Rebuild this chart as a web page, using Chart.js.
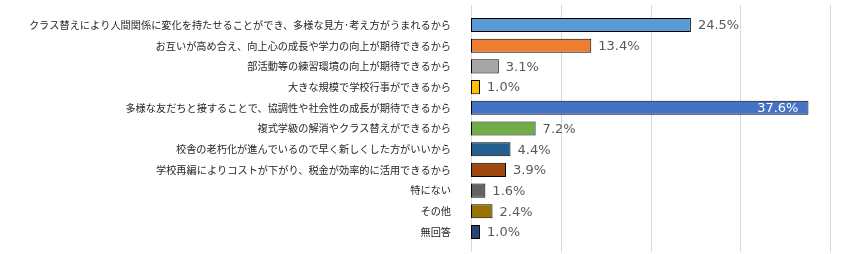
<!DOCTYPE html>
<html lang="ja">
<head>
  <meta charset="UTF-8">
  <title>学校再編の良い点</title>
  <style>
    body { margin: 0; background: #fff; }
    .wrap { width: 842px; height: 254px; position: relative; }
  </style>
  <script src="https://cdn.jsdelivr.net/npm/chart.js"></script>
</head>
<body>
  <div class="wrap"><canvas id="reasonChart"></canvas></div>

  <script>
    const categories = [
      'クラス替えにより人間関係に変化を持たせることができ、多様な見方･考え方がうまれるから',
      'お互いが高め合え、向上心の成長や学力の向上が期待できるから',
      '部活動等の練習環境の向上が期待できるから',
      '大きな規模で学校行事ができるから',
      '多様な友だちと接することで、協調性や社会性の成長が期待できるから',
      '複式学級の解消やクラス替えができるから',
      '校舎の老朽化が進んでいるので早く新しくした方がいいから',
      '学校再編によりコストが下がり、税金が効率的に活用できるから',
      '特にない',
      'その他',
      '無回答'
    ];
    const percents = [24.5, 13.4, 3.1, 1.0, 37.6, 7.2, 4.4, 3.9, 1.6, 2.4, 1.0];
    const barColors = ['#5B9BD5', '#ED7D31', '#A5A5A5', '#FFC000', '#4472C4', '#70AD47',
                       '#255E91', '#9E480E', '#636363', '#997300', '#264478'];
    const gridValues = [0, 10, 20, 30, 40];

    // vertical gridlines run a little past the bars, like the original
    const gridPlugin = {
      id: 'tallGrid',
      beforeDatasetsDraw(chart) {
        const { ctx, scales: { x } } = chart;
        ctx.save();
        ctx.strokeStyle = '#d9d9d9';
        ctx.lineWidth = 1;
        gridValues.forEach(v => {
          const px = Math.round(x.getPixelForValue(v)) + 0.5;
          ctx.beginPath();
          ctx.moveTo(px, 5);
          ctx.lineTo(px, 252);
          ctx.stroke();
        });
        ctx.restore();
      }
    };

    // percentage labels at the end of each bar
    const valuePlugin = {
      id: 'valueLabels',
      afterDatasetsDraw(chart) {
        const { ctx, chartArea } = chart;
        const meta = chart.getDatasetMeta(0);
        ctx.save();
        ctx.font = '13px "DejaVu Sans"';
        ctx.textBaseline = 'middle';
        meta.data.forEach((bar, i) => {
          const text = percents[i].toFixed(1) + '%';
          const w = ctx.measureText(text).width;
          if (bar.x + 7 + w > chartArea.right) {
            ctx.fillStyle = '#ffffff';
            ctx.textAlign = 'right';
            ctx.fillText(text, bar.x - 10, bar.y + 1);
          } else {
            ctx.fillStyle = '#595959';
            ctx.textAlign = 'left';
            ctx.fillText(text, bar.x + 7, bar.y + 1);
          }
        });
        ctx.restore();
      }
    };

    const ctx = document.getElementById('reasonChart').getContext('2d');
    new Chart(ctx, {
      type: 'bar',
      data: {
        labels: categories,
        datasets: [{
          data: percents,
          backgroundColor: barColors,
          borderColor: '#000000',
          borderWidth: 1,
          borderSkipped: false,
          categoryPercentage: 1,
          barPercentage: 0.68
        }]
      },
      options: {
        indexAxis: 'y',
        responsive: true,
        maintainAspectRatio: false,
        animation: false,
        layout: { padding: { left: 0, right: 12, top: 14.65, bottom: 11.65 } },
        scales: {
          x: {
            display: false,
            min: 0,
            max: 40
          },
          y: {
            grid: { display: false },
            border: { display: false },
            ticks: {
              padding: 12,
              color: '#262626',
              font: { family: '"Noto Sans CJK JP"', size: 10.2 }
            },
            afterFit: s => {
              s.width = 471;
              s.paddingTop = 0;
              s.paddingBottom = 0;
            }
          }
        },
        plugins: {
          legend: { display: false },
          tooltip: { enabled: false }
        }
      },
      plugins: [gridPlugin, valuePlugin]
    });
  </script>
</body>
</html>
